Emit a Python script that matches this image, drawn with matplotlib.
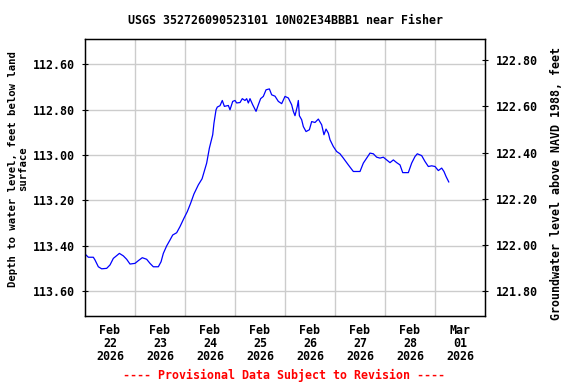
import matplotlib
matplotlib.use("Agg")
import matplotlib.pyplot as plt
import numpy as np
import pandas as pd

# Data: hours since 2026-02-22 00:00 and depth to water (feet below land surface)
hours = [0.48, 1.6, 4.0, 4.8, 6.4, 8.0, 10.4, 12.0, 13.6, 15.2, 16.5, 18.4, 20.0, 21.6,
         24.0, 25.6, 27.5, 29.6, 31.2, 32.8, 35.2, 36.5, 37.6, 39.2, 40.8, 42.1, 44.0,
         45.6, 47.5, 49.1, 50.7, 52.3, 54.4, 56.2, 58.4, 59.7, 61.3, 61.9, 62.9, 63.5,
         64.8, 65.9, 66.9, 68.8, 69.6, 70.9, 72.0, 72.8, 74.4, 75.5, 76.8, 77.6, 78.4,
         79.2, 80.5, 82.1, 83.2, 84.3, 85.6, 86.9, 88.5, 89.6, 91.2, 92.8, 94.4, 96.0,
         97.6, 99.2, 100.0, 100.8, 101.9, 102.4, 102.9, 104.0, 104.8, 106.1, 107.7,
         108.8, 110.4, 112.0, 113.6, 114.7, 115.7, 116.8, 117.6, 119.2, 120.8, 122.4,
         124.0, 126.4, 128.8, 132.0, 133.6, 135.2, 136.8, 138.4, 140.0, 141.6, 143.2,
         144.8, 146.4, 148.0, 149.6, 151.2, 152.5, 155.2, 156.8, 158.4, 159.5, 161.6,
         163.2, 164.8, 166.4, 168.0, 169.6, 171.2, 172.3, 173.3, 174.6]
depth = [113.441, 113.451, 113.451, 113.463, 113.493, 113.502, 113.500, 113.485, 113.456,
         113.444, 113.434, 113.445, 113.460, 113.481, 113.478, 113.466, 113.453, 113.460,
         113.478, 113.493, 113.493, 113.471, 113.434, 113.401, 113.375, 113.353, 113.343,
         113.316, 113.279, 113.250, 113.213, 113.172, 113.132, 113.105, 113.036, 112.970,
         112.911, 112.860, 112.801, 112.789, 112.783, 112.760, 112.786, 112.782, 112.801,
         112.764, 112.760, 112.771, 112.769, 112.752, 112.760, 112.752, 112.771, 112.752,
         112.779, 112.808, 112.779, 112.752, 112.742, 112.713, 112.709, 112.735, 112.741,
         112.764, 112.774, 112.742, 112.749, 112.779, 112.808, 112.827, 112.786, 112.760,
         112.827, 112.845, 112.875, 112.897, 112.889, 112.853, 112.857, 112.842, 112.867,
         112.911, 112.886, 112.904, 112.933, 112.963, 112.985, 112.995, 113.014, 113.044,
         113.073, 113.073, 113.036, 113.014, 112.992, 112.995, 113.010, 113.014, 113.010,
         113.022, 113.034, 113.022, 113.034, 113.044, 113.078, 113.078, 113.036, 113.007,
         112.995, 113.003, 113.029, 113.051, 113.048, 113.051, 113.069, 113.058, 113.073,
         113.095, 113.119]

left_ticks = [112.60, 112.80, 113.00, 113.20, 113.40, 113.60]
right_ticks = [122.80, 122.60, 122.40, 122.20, 122.00, 121.80]
date_labels = ["Feb\n22\n2026", "Feb\n23\n2026", "Feb\n24\n2026", "Feb\n25\n2026",
               "Feb\n26\n2026", "Feb\n27\n2026", "Feb\n28\n2026", "Mar\n01\n2026"]

title = "USGS 352726090523101 10N02E34BBB1 near Fisher"
left_label = "Depth to water level, feet below land\nsurface"
right_label = "Groundwater level above NAVD 1988, feet"
footer = "---- Provisional Data Subject to Revision ----"

FONT = "DejaVu Sans Mono"
FS = 8.4

base = pd.Timestamp("2026-02-22 00:00")
times = [base + pd.Timedelta(hours=h) for h in hours]

fig = plt.figure(figsize=(5.76, 3.84), dpi=100)
ax = fig.add_axes([85/576, 1-316/384, 400/576, 277/384])

ax.plot(times, depth, color="#0000ff", linewidth=0.9)

ax.set_xlim(base, base + pd.Timedelta(days=8))
ax.set_ylim(113.710, 112.489)

# x ticks: grid at midnight, labels at noon
major = [base + pd.Timedelta(days=i) for i in range(1, 8)]
minor = [base + pd.Timedelta(days=i, hours=12) for i in range(8)]
ax.set_xticks(major)
ax.set_xticklabels([])
ax.set_xticks(minor, minor=True)
ax.set_xticklabels(date_labels, minor=True, fontfamily=FONT, fontweight="bold",
                   fontsize=FS, linespacing=1.0)
ax.tick_params(axis="x", which="minor", length=0, pad=6)
ax.tick_params(axis="x", which="major", length=0)

ax.set_yticks(left_ticks)
ax.set_yticklabels([f"{v:.2f}" for v in left_ticks], fontfamily=FONT, fontweight="bold", fontsize=FS)
ax.tick_params(axis="y", direction="inout", length=5, width=0.8, pad=5)

ax.grid(True, which="major", color="#cccccc", linewidth=1.0)
ax.set_axisbelow(True)
for s in ax.spines.values():
    s.set_linewidth(1.0)

fig.text(18/576, 1-169/384, left_label, rotation=90, ha="center", va="center",
         fontfamily=FONT, fontweight="bold", fontsize=7.6, linespacing=1.1,
         multialignment="center")

ax2 = ax.twinx()
ax2.set_ylim(121.690, 122.893)
ax2.set_yticks(right_ticks)
ax2.set_yticklabels([f"{v:.2f}" for v in right_ticks], fontfamily=FONT, fontweight="bold", fontsize=FS)
ax2.tick_params(axis="y", direction="inout", length=5, width=0.8, pad=5)

fig.text(557/576, 1-183/384, right_label, rotation=90, ha="center", va="center",
         fontfamily=FONT, fontweight="bold", fontsize=FS)

fig.text(285/576, 1-20/384, title, ha="center", va="center", fontfamily=FONT,
         fontweight="bold", fontsize=FS)
fig.text(284/576, 1-375/384, footer, ha="center", va="center", fontfamily=FONT,
         fontweight="bold", fontsize=FS, color="#ff0000")

fig.savefig("out.png", dpi=100)
